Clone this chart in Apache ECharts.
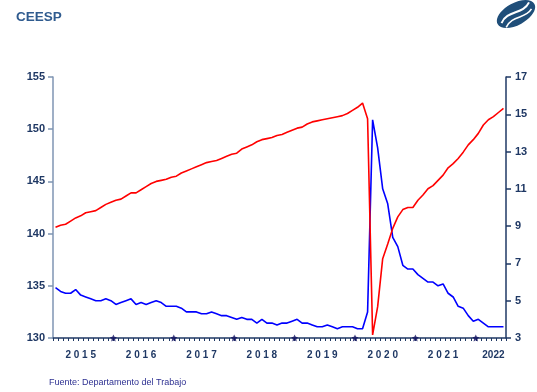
<!DOCTYPE html>
<html>
<head>
<meta charset="utf-8">
<script src="https://cdn.jsdelivr.net/npm/echarts@6/dist/echarts.min.js"></script>
<style>
  html, body { margin: 0; padding: 0; background: #ffffff; }
  #chart { width: 537px; height: 392px; }
</style>
</head>
<body>
<div id="chart"></div>
<script>
// Monthly series, January 2015 through June 2022
const years = [2015, 2016, 2017, 2018, 2019, 2020, 2021, 2022];
const monthsInLastYear = 6;

// Total nonfarm employment, millions (left axis)
const payrolls = [
  140.6, 140.8, 140.9, 141.2, 141.5, 141.7, 142.0, 142.1, 142.2, 142.5, 142.8, 143.0,
  143.2, 143.3, 143.6, 143.9, 143.9, 144.2, 144.5, 144.8, 145.0, 145.1, 145.2, 145.4,
  145.5, 145.8, 146.0, 146.2, 146.4, 146.6, 146.8, 146.9, 147.0, 147.2, 147.4, 147.6,
  147.7, 148.1, 148.3, 148.5, 148.8, 149.0, 149.1, 149.2, 149.4, 149.5, 149.7, 149.9,
  150.1, 150.2, 150.5, 150.7, 150.8, 150.9, 151.0, 151.1, 151.2, 151.3, 151.5, 151.8,
  152.1, 152.5, 151.0, 130.3, 133.0, 137.6, 139.0, 140.5, 141.6, 142.3, 142.5, 142.5,
  143.2, 143.7, 144.3, 144.6, 145.1, 145.6, 146.3, 146.7, 147.2, 147.8, 148.5, 149.0,
  149.6, 150.4, 150.9, 151.2, 151.6, 152.0
];

// Unemployment rate, percent (right axis)
const unemployment = [
  5.7, 5.5, 5.4, 5.4, 5.6, 5.3, 5.2, 5.1, 5.0, 5.0, 5.1, 5.0,
  4.8, 4.9, 5.0, 5.1, 4.8, 4.9, 4.8, 4.9, 5.0, 4.9, 4.7, 4.7,
  4.7, 4.6, 4.4, 4.4, 4.4, 4.3, 4.3, 4.4, 4.3, 4.2, 4.2, 4.1,
  4.0, 4.1, 4.0, 4.0, 3.8, 4.0, 3.8, 3.8, 3.7, 3.8, 3.8, 3.9,
  4.0, 3.8, 3.8, 3.7, 3.6, 3.6, 3.7, 3.6, 3.5, 3.6, 3.6, 3.6,
  3.5, 3.5, 4.4, 14.7, 13.2, 11.0, 10.2, 8.4, 7.9, 6.9, 6.7, 6.7,
  6.4, 6.2, 6.0, 6.0, 5.8, 5.9, 5.4, 5.2, 4.7, 4.6, 4.2, 3.9,
  4.0, 3.8, 3.6, 3.6, 3.6, 3.6
];

// Year captions under the time axis
const yearLabels = ['2 0 1 5', '2 0 1 6', '2 0 1 7', '2 0 1 8', '2 0 1 9', '2 0 2 0', '2 0 2 1', '2022'];
// Month index (within each year) where its caption sits
const yearLabelMonth = [5, 5, 5, 5, 5, 5, 5, 3];

const months = [];
years.forEach((y, yi) => {
  const n = yi === years.length - 1 ? monthsInLastYear : 12;
  for (let m = 1; m <= n; m++) months.push(y + '-' + String(m).padStart(2, '0'));
});

// Year boundaries, marked with a small star on the time axis
const yearStarts = [];
for (let i = 12; i < months.length; i += 12) yearStarts.push([i, 130]);

const navy = '#1f3864';
const font = 'Arial, "Liberation Sans", sans-serif';
const starPath = 'path://M0,-10L2.9,-4L9.5,-3.1L4.7,1.5L5.9,8.1L0,5L-5.9,8.1L-4.7,1.5L-9.5,-3.1L-2.9,-4Z';

const chart = echarts.init(document.getElementById('chart'), null, { renderer: 'canvas' });

chart.setOption({
  animation: false,
  backgroundColor: '#ffffff',
  title: {
    text: 'CEESP',
    left: 11, top: 5,
    textStyle: { color: '#2f5b8f', fontSize: 13.5, fontWeight: 'bold', fontFamily: font }
  },
  graphic: [
    {
      type: 'group', x: 516, y: 14, rotation: 0.5,
      children: [
        { type: 'ellipse', shape: { cx: 0, cy: 0, rx: 21, ry: 11 }, style: { fill: '#1f4e79' } },
        { type: 'bezierCurve', shape: { x1: -17, y1: 1, cpx1: -6, cpy1: -8, cpx2: 6, cpy2: 4, x2: 17, y2: -4 },
          style: { stroke: '#ffffff', lineWidth: 2, fill: null } },
        { type: 'bezierCurve', shape: { x1: -15, y1: 7, cpx1: -4, cpy1: -1, cpx2: 6, cpy2: 9, x2: 16, y2: 3 },
          style: { stroke: '#ffffff', lineWidth: 1.6, fill: null } }
      ]
    },
    {
      type: 'text', left: 49, top: 378,
      style: { text: 'Fuente: Departamento del Trabajo', fill: '#2e3192', font: '9px ' + font }
    }
  ],
  grid: { left: 53, right: 31, top: 77, bottom: 54, containLabel: false },
  xAxis: [
    {
      type: 'category',
      data: months,
      boundaryGap: true,
      axisLine: { show: true, lineStyle: { color: navy, width: 1.5 } },
      axisTick: { show: true, interval: 0, length: 3, lineStyle: { color: navy, width: 1 } },
      axisLabel: {
        interval: (index) => {
          const yi = Math.floor(index / 12);
          return index % 12 === yearLabelMonth[yi];
        },
        formatter: (value, index) => yearLabels[Math.floor(index / 12)],
        color: navy, fontSize: 10, fontWeight: 'bold', fontFamily: font, margin: 12
      },
      splitLine: { show: false }
    },
    {
      type: 'value', min: 0, max: months.length, show: false
    }
  ],
  yAxis: [
    {
      type: 'value', min: 130, max: 155, interval: 5, position: 'left',
      axisLine: { show: true, onZero: false, lineStyle: { color: '#7f95b3', width: 1.5 } },
      axisTick: { show: true, length: 5, lineStyle: { color: '#7f95b3', width: 1.5 } },
      axisLabel: { color: navy, fontSize: 11, fontWeight: 'bold', fontFamily: font, margin: 8 },
      splitLine: { show: false }
    },
    {
      type: 'value', min: 3, max: 17, interval: 2, position: 'right',
      axisLine: { show: true, onZero: false, lineStyle: { color: navy, width: 1.5 } },
      axisTick: { show: true, length: 5, lineStyle: { color: navy, width: 1.5 } },
      axisLabel: { color: navy, fontSize: 11, fontWeight: 'bold', fontFamily: font, margin: 9 },
      splitLine: { show: false }
    }
  ],
  series: [
    {
      name: 'Empleo', type: 'line', xAxisIndex: 0, yAxisIndex: 0,
      data: payrolls, showSymbol: false, symbol: 'none',
      lineStyle: { color: '#ff0000', width: 1.6 }, z: 3
    },
    {
      name: 'Desempleo', type: 'line', xAxisIndex: 0, yAxisIndex: 1,
      data: unemployment, showSymbol: false, symbol: 'none',
      lineStyle: { color: '#0000ff', width: 1.6 }, z: 2
    },
    {
      name: 'Año', type: 'scatter', xAxisIndex: 1, yAxisIndex: 0,
      data: yearStarts, symbol: starPath, symbolSize: 7,
      itemStyle: { color: '#101060' }, z: 5, silent: true
    }
  ]
});
</script>
</body>
</html>
